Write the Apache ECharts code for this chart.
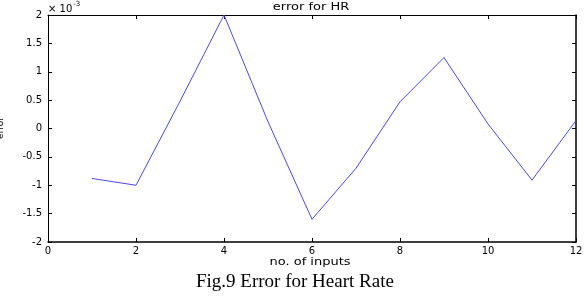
<!DOCTYPE html>
<html>
<head>
  <meta charset="utf-8">
  <title>error for HR</title>
  <script src="https://cdn.jsdelivr.net/npm/echarts@6/dist/echarts.min.js"></script>
  <style>
    html, body { margin: 0; padding: 0; background: #fff; }
    #chart { width: 587px; height: 298px; }
  </style>
</head>
<body>
<div id="chart"></div>
<script type="text/javascript">
// 数据（单位 x10^-3）
var inputs = [1, 2, 3, 4, 5, 6, 7, 8, 9, 10, 11, 12];
var errVals = [-0.88, -1.0, 0.48, 2.0, 0.12, -1.6, -0.7, 0.47, 1.25, 0.08, -0.91, 0.14];
var xTicks = [0, 12, 2];   // min, max, step
var yTicks = [-2, 2, 0.5];

var points = [];
for (var i = 0; i < inputs.length; i++) {
  points.push([inputs[i], errVals[i]]);
}

var lbl = { fontFamily: 'DejaVu Sans', fontSize: 10, color: '#000' };
var chart = echarts.init(document.getElementById('chart'));

// 文字略拉宽，模仿原图
function wideText(txt, x, y, rot) {
  return {
    type: 'text', x: x, y: y, scaleX: 1.3, rotation: rot || 0,
    style: { text: txt, fontFamily: 'DejaVu Sans', fontSize: 10, fill: '#000', align: 'center', verticalAlign: 'middle' }
  };
}

var option = {
  animation: false,
  grid: { left: 48, right: 11, top: 15, bottom: 56, outerBoundsMode: 'none', containLabel: false },
  xAxis: [{
    type: 'value', min: xTicks[0], max: xTicks[1], interval: xTicks[2],
    axisLine: { onZero: false, lineStyle: { color: '#000', width: 1.5 } },
    axisTick: { inside: true, length: 4, lineStyle: { color: '#000' } },
    axisLabel: Object.assign({ margin: 4 }, lbl),
    splitLine: { show: false }
  }, {
    type: 'value', position: 'top', min: xTicks[0], max: xTicks[1], interval: xTicks[2],
    axisLine: { show: true, onZero: false, lineStyle: { color: '#000', width: 1 } },
    axisTick: { inside: true, length: 4, lineStyle: { color: '#000' } },
    axisLabel: { show: false },
    splitLine: { show: false }
  }],
  yAxis: [{
    type: 'value', min: yTicks[0], max: yTicks[1], interval: yTicks[2],
    axisLine: { show: true, onZero: false, lineStyle: { color: '#000', width: 1 } },
    axisTick: { inside: true, length: 4, lineStyle: { color: '#000' } },
    axisLabel: Object.assign({ margin: 6 }, lbl),
    splitLine: { show: false }
  }, {
    type: 'value', position: 'right', min: yTicks[0], max: yTicks[1], interval: yTicks[2],
    axisLine: { show: true, onZero: false, lineStyle: { color: '#000', width: 1.5 } },
    axisTick: { inside: true, length: 4, lineStyle: { color: '#000' } },
    axisLabel: { show: false },
    splitLine: { show: false }
  }],
  graphic: [
    wideText('error for HR', 311, 7),
    wideText('no. of inputs', 310, 262),
    {
      type: 'text', x: 1, y: 128, rotation: Math.PI / 2,
      style: { text: 'error', fontFamily: 'DejaVu Sans', fontSize: 9, fill: '#000', align: 'center', verticalAlign: 'middle' }
    },
    {
      type: 'text', left: 48, top: 1,
      style: {
        text: '{a|× 10}{b|-3}',
        rich: {
          a: { fontFamily: 'DejaVu Sans', fontSize: 10, fill: '#000', verticalAlign: 'bottom' },
          b: { fontFamily: 'DejaVu Sans', fontSize: 7, fill: '#000', verticalAlign: 'top', padding: [0, 0, 6, 1] }
        }
      }
    }, {
      type: 'text', left: 196, top: 273,
      style: {
        text: 'Fig.9 Error for Heart Rate',
        fontFamily: 'Liberation Serif', fontSize: 19, fill: '#000'
      }
    }
  ],
  series: [{
    type: 'line',
    data: points,
    symbol: 'none',
    lineStyle: { color: '#4a4ae6', width: 1 }
  }]
};

chart.setOption(option);
</script>
</body>
</html>
